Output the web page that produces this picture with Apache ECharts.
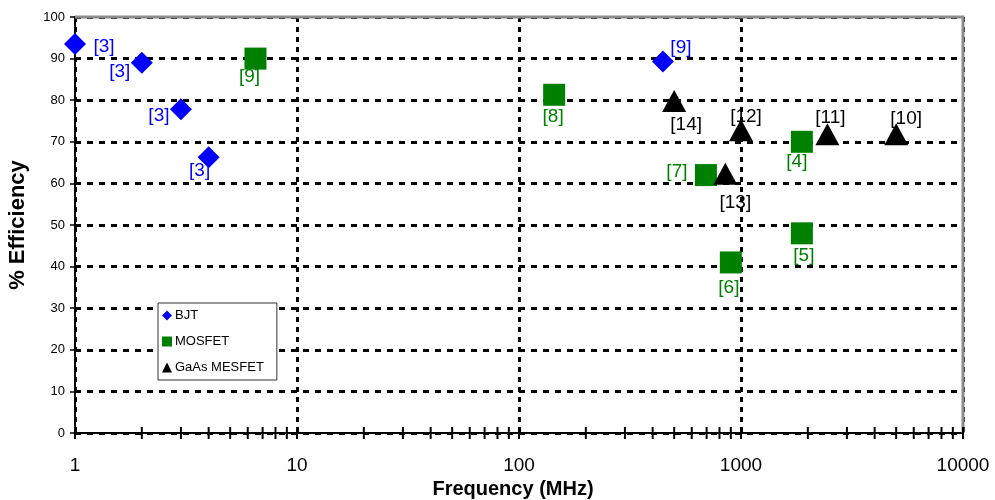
<!DOCTYPE html>
<html>
<head>
<meta charset="utf-8">
<script src="https://cdn.jsdelivr.net/npm/echarts@6/dist/echarts.min.js"></script>
<style>
  html, body { margin: 0; padding: 0; background: #fff; }
  #chart { width: 995px; height: 500px; }
</style>
</head>
<body>
<div id="chart"></div>
<script>
// Efficiency vs. frequency for three transistor technologies (log frequency axis)
const bjtFreq = [1, 2, 3, 4, 445];
const bjtEff = [93.5, 89, 77.8, 66.3, 89.3];
const bjtRefs = ['[3]', '[3]', '[3]', '[3]', '[9]'];

const mosFreq = [6.5, 144, 695, 1880, 1880, 900];
const mosEff = [90, 81.3, 62, 70, 48, 41];
const mosRefs = ['[9]', '[8]', '[7]', '[4]', '[5]', '[6]'];

const mesFreq = [500, 1000, 850, 2450, 5000];
const mesEff = [79.8, 72.8, 62.3, 71.8, 71.8];
const mesRefs = ['[14]', '[12]', '[13]', '[11]', '[10]'];

const yTicks = [0, 10, 20, 30, 40, 50, 60, 70, 80, 90, 100];
const xDecades = [1, 10, 100, 1000, 10000];
const xMinorTicks = [2, 3, 4, 5, 6, 7, 8, 9,
  20, 30, 40, 50, 60, 70, 80, 90,
  200, 300, 400, 500, 600, 700, 800, 900,
  2000, 3000, 4000, 5000, 6000, 7000, 8000, 9000];

// label offsets (px) relative to each marker centre
const bjtLabelOffsets = [[29, 3], [-22, 9], [-22, 6], [-9, 14], [18, -14]];
const mosLabelOffsets = [[-6, 18], [-1, 22], [-29, -3], [-5, 20], [2, 22], [-2, 25]];
const mesLabelOffsets = [[12, 24], [5, -13], [10, 29], [3, -17], [10, -16]];

const FONT = 'Liberation Sans, Arial, sans-serif';

function pointsOf(freq, eff, refs, offsets, color) {
  return freq.map((f, i) => ({
    value: [f, eff[i]],
    label: {
      show: true,
      formatter: refs[i],
      position: 'inside',
      offset: offsets[i],
      color: color,
      fontFamily: FONT,
      fontSize: 19
    }
  }));
}

const chart = echarts.init(document.getElementById('chart'), null, { renderer: 'canvas' });

const option = {
  backgroundColor: '#fff',
  animation: false,
  grid: { left: 75, right: 32, top: 17, bottom: 67, outerBoundsMode: 'none', containLabel: false },
  legend: {
    orient: 'vertical',
    left: 158, top: 303,
    backgroundColor: '#fff',
    borderColor: '#333', borderWidth: 1,
    padding: [6, 13, 6, 4],
    itemWidth: 10, itemHeight: 10, itemGap: 13,
    textStyle: { fontFamily: FONT, fontSize: 13, color: '#000', padding: [0, 0, 0, -2] },
    data: [
      { name: 'BJT', icon: 'diamond' },
      { name: 'MOSFET', icon: 'rect' },
      { name: 'GaAs MESFET', icon: 'triangle' }
    ]
  },
  xAxis: {
    type: 'log', logBase: 10, min: 1, max: 10000,
    name: 'Frequency (MHz)', nameLocation: 'middle', nameGap: 45,
    nameTextStyle: {
      fontFamily: FONT, fontSize: 20, fontWeight: 'bold', color: '#000',
      padding: [0, 12, 0, 0]
    },
    axisLine: { show: true, onZero: false, lineStyle: { color: '#000', width: 2 } },
    axisTick: { show: false },
    axisLabel: {
      fontFamily: FONT, fontSize: 19, color: '#000', margin: 23,
      formatter: v => String(Math.round(v))
    },
    splitLine: { show: true, lineStyle: { color: '#000', width: 3, type: [5, 5] } }
  },
  yAxis: {
    type: 'value', min: 0, max: 100, interval: 10,
    name: '% Efficiency', nameLocation: 'middle', nameGap: 46, nameRotate: 90,
    nameTextStyle: { fontFamily: FONT, fontSize: 22, fontWeight: 'bold', color: '#000' },
    axisLine: { show: true, lineStyle: { color: '#000', width: 2 } },
    axisTick: { show: true, length: 5, lineStyle: { color: '#000', width: 1.5 } },
    axisLabel: {
      fontFamily: FONT, fontSize: 13, color: '#000', margin: 10,
      formatter: v => yTicks.includes(v) ? String(v) : ''
    },
    splitLine: { show: true, lineStyle: { color: '#000', width: 3, type: [6, 6] } }
  },
  series: [
    {
      // plot-area frame along the top and right edges
      name: 'frame', type: 'custom', silent: true, clip: false, z: 3,
      data: [[1, 0]],
      renderItem: (params, api) => {
        const tl = api.coord([1, 100]);
        const tr = api.coord([10000, 100]);
        const br = api.coord([10000, 0]);
        return {
          type: 'polyline',
          shape: { points: [tl, tr, br] },
          style: { stroke: '#8c8c8c', lineWidth: 3, fill: null }
        };
      }
    },
    {
      name: 'BJT', type: 'scatter', symbol: 'diamond', symbolSize: 22,
      itemStyle: { color: '#0000ff', opacity: 1 },
      data: pointsOf(bjtFreq, bjtEff, bjtRefs, bjtLabelOffsets, '#0000ff'),
      z: 5
    },
    {
      name: 'MOSFET', type: 'scatter', symbol: 'rect', symbolSize: 22,
      itemStyle: { color: '#008000', opacity: 1 },
      data: pointsOf(mosFreq, mosEff, mosRefs, mosLabelOffsets, '#008000'),
      z: 5
    },
    {
      name: 'GaAs MESFET', type: 'scatter', symbol: 'triangle', symbolSize: [24, 22],
      itemStyle: { color: '#000', opacity: 1 },
      data: pointsOf(mesFreq, mesEff, mesRefs, mesLabelOffsets, '#000'),
      z: 5
    },
    {
      // tick marks crossing the frequency axis at decades and in-between values
      name: 'ticks', type: 'custom', silent: true, clip: false, z: 6,
      data: xDecades.concat(xMinorTicks).map(v => [v, 0]),
      renderItem: (params, api) => {
        const p = api.coord([api.value(0), 0]);
        return {
          type: 'line',
          shape: { x1: p[0], y1: p[1] - 6, x2: p[0], y2: p[1] + 6 },
          style: { stroke: '#000', lineWidth: 2 }
        };
      }
    }
  ]
};

chart.setOption(option);
</script>
</body>
</html>
